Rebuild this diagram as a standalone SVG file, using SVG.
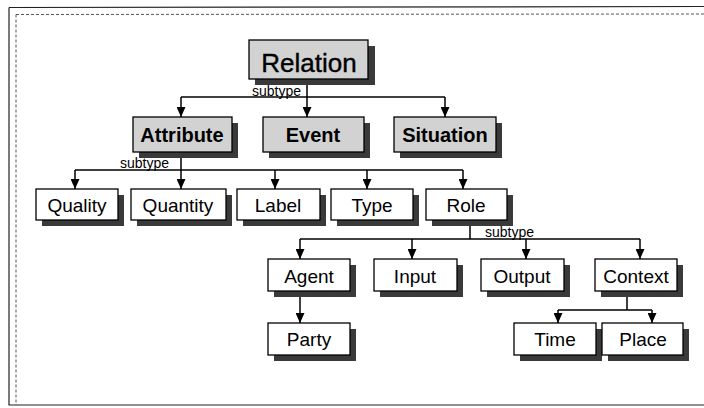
<svg xmlns="http://www.w3.org/2000/svg" width="704" height="408" viewBox="0 0 704 408">
<defs>
<marker id="arr" markerUnits="userSpaceOnUse" markerWidth="10" markerHeight="9" refX="10" refY="4.5" orient="auto">
<path d="M0,0 L10,4.5 L0,9 z" fill="#000"/>
</marker>
<style>
.frame{fill:none;stroke:#222;stroke-width:1.2}
.dot{fill:none;stroke:#555;stroke-width:1;stroke-dasharray:3 2}
.sh{fill:#3a3a3a}
.box{fill:#fff;stroke:#000;stroke-width:1.3}
.gbox{fill:#d2d2d2;stroke:#000;stroke-width:1.3}
.t{font-family:"Liberation Sans",Arial,sans-serif;font-size:19px;fill:#000;text-anchor:middle}
.tb{font-family:"Liberation Sans",Arial,sans-serif;font-size:20px;font-weight:bold;fill:#000;text-anchor:middle}
.tr{font-family:"Liberation Sans",Arial,sans-serif;font-size:26px;fill:#000;text-anchor:middle;stroke:#000;stroke-width:0.4}
.lbl{font-family:"Liberation Sans",Arial,sans-serif;font-size:14px;fill:#000}
.c{fill:none;stroke:#000;stroke-width:1.5}
</style>
</defs>
<rect width="704" height="408" fill="#fff"/>
<g id="frame">
<path class="frame" d="M9,7.5 L704,6.5 M9,7.5 L9,405 L704,405"/>
<path class="dot" d="M16,14.5 L704,14 M16,14.5 L16,405"/>
</g>
<g id="connectors">
<path class="c" d="M307,79 L307,97 M181,97 L445,97"/>
<path class="c" d="M181,97 L181,117" marker-end="url(#arr)"/>
<path class="c" d="M307,97 L307,117" marker-end="url(#arr)"/>
<path class="c" d="M445,97 L445,117" marker-end="url(#arr)"/>
<text class="lbl" x="252" y="96">subtype</text>
<path class="c" d="M181,152 L181,170 M75,170 L463,170"/>
<path class="c" d="M75,170 L75,189" marker-end="url(#arr)"/>
<path class="c" d="M181,170 L181,189" marker-end="url(#arr)"/>
<path class="c" d="M275,170 L275,189" marker-end="url(#arr)"/>
<path class="c" d="M367,170 L367,189" marker-end="url(#arr)"/>
<path class="c" d="M463,170 L463,189" marker-end="url(#arr)"/>
<text class="lbl" x="120" y="168">subtype</text>
<path class="c" d="M470,220 L470,239 M300,239 L640,239"/>
<path class="c" d="M300,239 L300,259" marker-end="url(#arr)"/>
<path class="c" d="M412,239 L412,259" marker-end="url(#arr)"/>
<path class="c" d="M526,239 L526,259" marker-end="url(#arr)"/>
<path class="c" d="M640,239 L640,259" marker-end="url(#arr)"/>
<text class="lbl" x="485" y="237">subtype</text>
<path class="c" d="M300,292 L300,323" marker-end="url(#arr)"/>
<path class="c" d="M627,291 L627,310 M558,310 L652,310"/>
<path class="c" d="M558,310 L558,323" marker-end="url(#arr)"/>
<path class="c" d="M652,310 L652,323" marker-end="url(#arr)"/>
</g>
<g id="relation"><rect class="sh" x="255" y="46" width="120" height="39"/><rect class="gbox" x="249" y="40" width="119" height="39"/><text class="tr" x="309" y="72">Relation</text></g>
<g id="attribute"><rect class="sh" x="139" y="123" width="99" height="35"/><rect class="gbox" x="133" y="117" width="99" height="35"/><text class="tb" x="182" y="142">Attribute</text></g>
<g id="event"><rect class="sh" x="269" y="123" width="101" height="35"/><rect class="gbox" x="263" y="117" width="101" height="35"/><text class="tb" x="313" y="142">Event</text></g>
<g id="situation"><rect class="sh" x="400" y="123" width="102" height="35"/><rect class="gbox" x="394" y="117" width="102" height="35"/><text class="tb" x="445" y="142">Situation</text></g>
<g id="quality"><rect class="sh" x="42" y="195" width="82" height="31"/><rect class="box" x="36" y="189" width="82" height="31"/><text class="t" x="77" y="212">Quality</text></g>
<g id="quantity"><rect class="sh" x="137" y="195" width="95" height="31"/><rect class="box" x="131" y="189" width="95" height="31"/><text class="t" x="178" y="212">Quantity</text></g>
<g id="label"><rect class="sh" x="243" y="195" width="83" height="31"/><rect class="box" x="237" y="189" width="83" height="31"/><text class="t" x="278" y="212">Label</text></g>
<g id="type"><rect class="sh" x="337" y="195" width="82" height="31"/><rect class="box" x="331" y="189" width="82" height="31"/><text class="t" x="372" y="212">Type</text></g>
<g id="role"><rect class="sh" x="432" y="195" width="81" height="31"/><rect class="box" x="426" y="189" width="81" height="31"/><text class="t" x="466" y="212">Role</text></g>
<g id="agent"><rect class="sh" x="274" y="265" width="82" height="32"/><rect class="box" x="268" y="259" width="82" height="32"/><text class="t" x="309" y="283">Agent</text></g>
<g id="input"><rect class="sh" x="380" y="265" width="83" height="32"/><rect class="box" x="374" y="259" width="83" height="32"/><text class="t" x="415" y="283">Input</text></g>
<g id="output"><rect class="sh" x="487" y="265" width="83" height="32"/><rect class="box" x="481" y="259" width="83" height="32"/><text class="t" x="522" y="283">Output</text></g>
<g id="context"><rect class="sh" x="601" y="265" width="82" height="32"/><rect class="box" x="595" y="259" width="82" height="32"/><text class="t" x="636" y="283">Context</text></g>
<g id="party"><rect class="sh" x="274" y="329" width="82" height="32"/><rect class="box" x="268" y="323" width="82" height="32"/><text class="t" x="309" y="346">Party</text></g>
<g id="time"><rect class="sh" x="520" y="329" width="82" height="32"/><rect class="box" x="514" y="323" width="82" height="32"/><text class="t" x="555" y="346">Time</text></g>
<g id="place"><rect class="sh" x="608" y="329" width="81" height="32"/><rect class="box" x="602" y="323" width="81" height="32"/><text class="t" x="643" y="346">Place</text></g>
</svg>
